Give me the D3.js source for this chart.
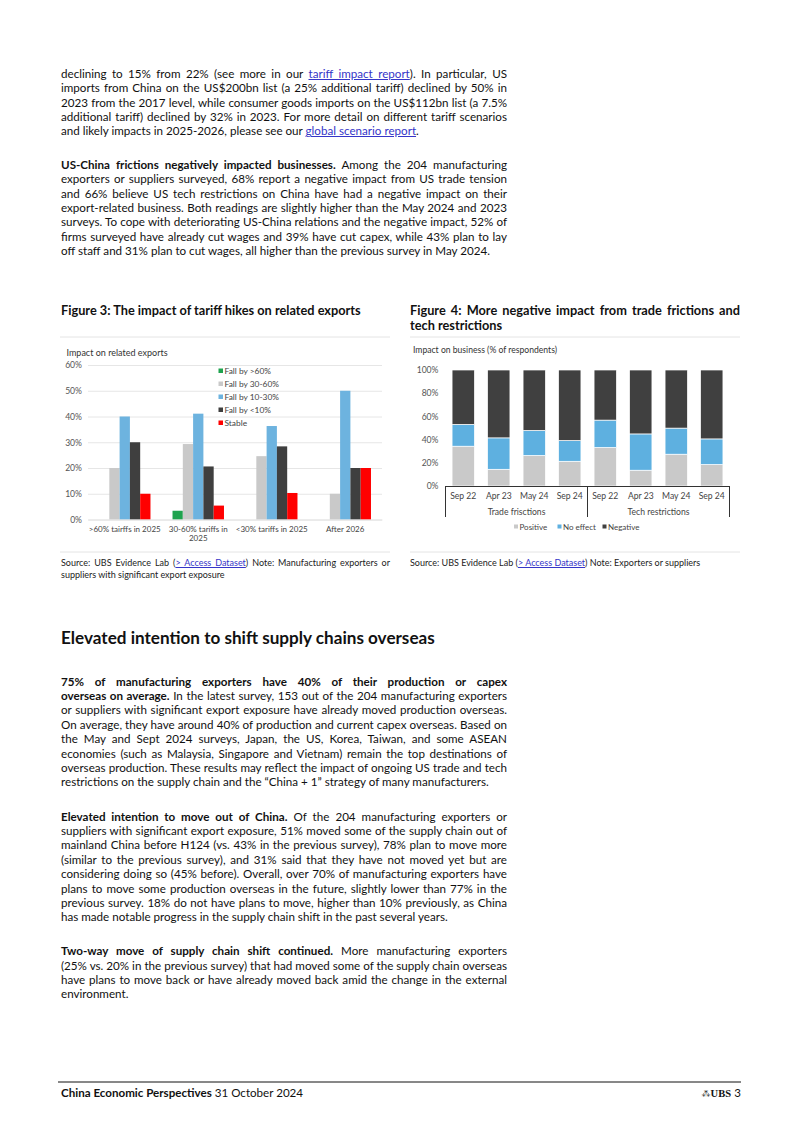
<!DOCTYPE html>
<html><head><meta charset="utf-8">
<script src="https://cdn.jsdelivr.net/npm/d3@7"></script>
<style>
html,body{margin:0;padding:0;background:#fff;}
body{width:802px;height:1134px;position:relative;overflow:hidden;font-family:Lato,"Noto Sans",sans-serif;color:#111;}
.ln{position:absolute;white-space:nowrap;}
.ln b{font-weight:700;}
.ln .a{color:#3535c8;text-decoration:underline;}
svg text{font-family:Lato,"Noto Sans",sans-serif;}
</style></head>
<body>
<script>
// ---------- DATA ----------
const fig3Categories = [">60% tairffs in 2025", "30-60% tariffs in|2025", "<30% tariffs in 2025", "After 2026"];
const fig3Series = ["Fall by >60%", "Fall by 30-60%", "Fall by 10-30%", "Fall by <10%", "Stable"];
const fall60 = [0, 3.4, 0, 0];
const fall30to60 = [20, 29.3, 24.6, 10];
const fall10to30 = [40, 41.1, 36.3, 50];
const fallBelow10 = [30, 20.6, 28.4, 20];
const stable = [10, 5.4, 10.3, 20];
const fig3Ticks = [0, 10, 20, 30, 40, 50, 60];

const fig4Periods = ["Sep 22", "Apr 23", "May 24", "Sep 24", "Sep 22", "Apr 23", "May 24", "Sep 24"];
const fig4Groups = ["Trade frisctions", "Tech restrictions"];
const fig4Series = ["Positive", "No effect", "Negative"];
const positive = [34.3, 14.4, 26.3, 21.3, 33.2, 13.6, 27.4, 18.5];
const noEffect = [18.8, 27.1, 21.6, 17.9, 23.6, 31.3, 22.5, 22.1];
const negative = [46.9, 58.5, 52.1, 60.8, 43.2, 55.1, 50.1, 59.4];
const fig4Ticks = [0, 20, 40, 60, 80, 100];

// ---------- PAGE ----------
const body = d3.select("body");
const svg = body.append("svg").attr("width", 802).attr("height", 1134)
  .style("position", "absolute").style("left", 0).style("top", 0);

const lines = [];
function addLine(x, yc, w, segs, opt) {
  opt = opt || {};
  const fs = opt.fs || 12, lh = opt.lh || 15;
  const d = body.append("div").attr("class", "ln")
    .style("left", x + "px").style("top", (yc - lh / 2) + "px")
    .style("line-height", lh + "px").style("font-size", fs + "px");
  if (opt.color) d.style("color", opt.color);
  const inner = d.append("span");
  segs.forEach(s => {
    const t = s[0], k = s[1] || "n";
    if (k === "b") inner.append("b").text(t);
    else if (k === "a") inner.append("span").attr("class", "a").text(t);
    else inner.append("span").text(t);
  });
  const o = {div: d, inner: inner, w: w, just: !!opt.just, group: opt.group || "prose", text: segs.map(s => s[0]).join("")};
  lines.push(o);
  return o;
}
function justify(o) {
  if (!o.just) return;
  o.div.style("word-spacing", "0px");
  const nat = o.inner.node().getBoundingClientRect().width;
  const n = (o.text.match(/ /g) || []).length;
  if (n > 0) o.div.style("word-spacing", ((o.w - nat) / n) + "px");
}

const X0 = 61, TW = 446, LH = 14.4;
function para(y0, arr) {
  arr.forEach((segs, i) => addLine(X0, y0 + i * LH, TW, segs, {just: i < arr.length - 1}));
}
para(73.3, [
  [["declining to 15% from 22% (see more in our "], ["tariff impact report", "a"], ["). In particular, US"]],
  [["imports from China on the US$200bn list (a 25% additional tariff) declined by 50% in"]],
  [["2023 from the 2017 level, while consumer goods imports on the US$112bn list (a 7.5%"]],
  [["additional tariff) declined by 32% in 2023. For more detail on different tariff scenarios"]],
  [["and likely impacts in 2025-2026, please see our "], ["global scenario report", "a"], ["."]]
]);
para(164.3, [
  [["US-China frictions negatively impacted businesses.", "b"], [" Among the 204 manufacturing"]],
  [["exporters or suppliers surveyed, 68% report a negative impact from US trade tension"]],
  [["and 66% believe US tech restrictions on China have had a negative impact on their"]],
  [["export-related business. Both readings are slightly higher than the May 2024 and 2023"]],
  [["surveys. To cope with deteriorating US-China relations and the negative impact, 52% of"]],
  [["firms surveyed have already cut wages and 39% have cut capex, while 43% plan to lay"]],
  [["off staff and 31% plan to cut wages, all higher than the previous survey in May 2024."]]
]);
para(681, [
  [["75% of manufacturing exporters have 40% of their production or capex", "b"]],
  [["overseas on average.", "b"], [" In the latest survey, 153 out of the 204 manufacturing exporters"]],
  [["or suppliers with significant export exposure have already moved production overseas."]],
  [["On average, they have around 40% of production and current capex overseas. Based on"]],
  [["the May and Sept 2024 surveys, Japan, the US, Korea, Taiwan, and some ASEAN"]],
  [["economies (such as Malaysia, Singapore and Vietnam) remain the top destinations of"]],
  [["overseas production. These results may reflect the impact of ongoing US trade and tech"]],
  [["restrictions on the supply chain and the \u201cChina + 1\u201d strategy of many manufacturers."]]
]);
para(816, [
  [["Elevated intention to move out of China.", "b"], [" Of the 204 manufacturing exporters or"]],
  [["suppliers with significant export exposure, 51% moved some of the supply chain out of"]],
  [["mainland China before H124 (vs. 43% in the previous survey), 78% plan to move more"]],
  [["(similar to the previous survey), and 31% said that they have not moved yet but are"]],
  [["considering doing so (45% before). Overall, over 70% of manufacturing exporters have"]],
  [["plans to move some production overseas in the future, slightly lower than 77% in the"]],
  [["previous survey. 18% do not have plans to move, higher than 10% previously, as China"]],
  [["has made notable progress in the supply chain shift in the past several years."]]
]);
para(950.7, [
  [["Two-way move of supply chain shift continued.", "b"], [" More manufacturing exporters"]],
  [["(25% vs. 20% in the previous survey) that had moved some of the supply chain overseas"]],
  [["have plans to move back or have already moved back amid the change in the external"]],
  [["environment."]]
]);

// calibrate prose font size so tightest justified line fits
(function () {
  const prose = lines.filter(l => l.group === "prose");
  let maxR = 0;
  prose.filter(l => l.just).forEach(l => {
    const r = l.inner.node().getBoundingClientRect().width / l.w;
    if (r > maxR) maxR = r;
  });
  const fs = 12 / maxR;
  prose.forEach(l => { l.div.style("font-size", fs + "px"); justify(l); });
})();

// section heading
(function () {
  const h = addLine(61, 638, 374, [["Elevated intention to shift supply chains overseas", "b"]], {fs: 18, lh: 22, group: "h"});
  const nat = h.inner.node().getBoundingClientRect().width;
  h.div.style("font-size", (18 * 374 / nat) + "px");
})();

// figure titles
(function () {
  const t3 = addLine(61, 310.7, 300, [["Figure 3: The impact of tariff hikes on related exports", "b"]], {fs: 12, lh: 15, group: "ft"});
  const nat = t3.inner.node().getBoundingClientRect().width;
  const fs = 12 * 300 / nat;
  t3.div.style("font-size", fs + "px");
  const a = addLine(410, 310.7, 330, [["Figure 4: More negative impact from trade frictions and", "b"]], {fs: fs, lh: 15, just: true, group: "ft"});
  addLine(410, 325.7, 330, [["tech restrictions", "b"]], {fs: fs, lh: 15, group: "ft"});
  justify(a);
})();

// sources
(function () {
  const s1 = addLine(61, 562.7, 329, [["Source: UBS Evidence Lab ("], ["> Access Dataset", "a"], [") Note: Manufacturing exporters or"]], {fs: 9, lh: 11, just: true, color: "#222", group: "src"});
  justify(s1);
  addLine(61, 574.3, 329, [["suppliers with significant export exposure"]], {fs: 9, lh: 11, color: "#222", group: "src"});
  addLine(410, 562.7, 329, [["Source: UBS Evidence Lab ("], ["> Access Dataset", "a"], [") Note: Exporters or suppliers"]], {fs: 9, lh: 11, color: "#222", group: "src"});
})();

// separators
[[60, 390], [410, 740]].forEach(r => {
  [337, 552].forEach(y => svg.append("line").attr("x1", r[0]).attr("x2", r[1]).attr("y1", y).attr("y2", y)
    .attr("stroke", "#e4e4e4").attr("stroke-width", 1));
});

// footer
svg.append("line").attr("x1", 58).attr("x2", 741).attr("y1", 1082).attr("y2", 1082).attr("stroke", "#111").attr("stroke-width", 1);
addLine(61, 1093, 300, [["China Economic Perspectives", "b"], ["  31 October 2024"]], {fs: 11.6, lh: 14, group: "foot"});
svg.append("text").attr("x", 731).attr("y", 1097).attr("text-anchor", "end")
  .style("font-family", "'Liberation Serif',serif").style("font-weight", 700).style("font-size", "10.5px").attr("fill", "#111").text("UBS");
svg.append("text").attr("x", 741).attr("y", 1097).attr("text-anchor", "end")
  .style("font-size", "11.5px").attr("fill", "#111").text("3");
svg.append("text").attr("x", 706).attr("y", 1096.5).attr("text-anchor", "middle")
  .style("font-family", "'DejaVu Sans',sans-serif").style("font-size", "9px").attr("fill", "#111").text("\u2042");

// ---------- FIGURE 3 ----------
(function () {
  const g = svg.append("g");
  const data = fig3Categories.map((c, i) => ({cat: c, vals: [fall60[i], fall30to60[i], fall10to30[i], fallBelow10[i], stable[i]]}));
  const colors = ["#1fa34f", "#c9c9c9", "#6db3df", "#3f3f3f", "#ff0000"];
  const x0 = d3.scaleBand().domain(fig3Categories).range([88, 382]).paddingInner(0.3).paddingOuter(0.15);
  const x1 = d3.scaleBand().domain(fig3Series).range([0, x0.bandwidth()]);
  const y = d3.scaleLinear().domain([0, 60]).range([519.5, 365]);

  g.append("text").attr("x", 66.5).attr("y", 353).attr("dy", "0.35em").style("font-size", "9px").attr("fill", "#333").text("Impact on related exports");

  const ax = g.append("g").attr("transform", "translate(88,0)")
    .call(d3.axisLeft(y).tickValues(fig3Ticks).tickFormat(d => d + "%").tickSize(-294).tickPadding(6));
  ax.select(".domain").remove();
  ax.selectAll(".tick line").attr("stroke", "#e0e0e0").attr("stroke-width", 0.8);
  ax.selectAll(".tick text").style("font-size", "8.6px").attr("fill", "#555").style("font-family", "Lato,sans-serif");

  const grp = g.selectAll(".grp").data(data).join("g").attr("transform", d => `translate(${x0(d.cat)},0)`);
  grp.selectAll("rect").data(d => d.vals.map((v, j) => ({s: fig3Series[j], v: v, j: j}))).join("rect")
    .attr("x", d => x1(d.s)).attr("width", x1.bandwidth())
    .attr("y", d => y(d.v)).attr("height", d => y(0) - y(d.v)).attr("fill", d => colors[d.j]);

  const xa = g.append("g").attr("transform", "translate(0,519.5)").call(d3.axisBottom(x0).tickSize(0).tickPadding(6).tickFormat(""));
  xa.select(".domain").attr("stroke", "#e0e0e0").attr("stroke-width", 0.8);
  fig3Categories.forEach(c => {
    const parts = c.split("|");
    parts.forEach((p, k) => g.append("text").attr("x", x0(c) + x0.bandwidth() / 2).attr("y", 529 + k * 9.5).attr("dy", "0.35em")
      .attr("text-anchor", "middle").style("font-size", "8px").attr("fill", "#444").text(p));
  });

  const lg = g.append("g");
  fig3Series.forEach((s, i) => {
    const yy = 371 + i * 13;
    lg.append("rect").attr("x", 218.5).attr("y", yy - 2.5).attr("width", 4.5).attr("height", 4.5).attr("fill", colors[i]);
    lg.append("text").attr("x", 224.5).attr("y", yy).attr("dy", "0.35em").style("font-size", "8.4px").attr("fill", "#444").text(s);
  });
})();

// ---------- FIGURE 4 ----------
(function () {
  const g = svg.append("g");
  const idx = d3.range(fig4Periods.length);
  const rows = idx.map(i => ({i: i, Positive: positive[i], "No effect": noEffect[i], Negative: negative[i]}));
  const stack = d3.stack().keys(fig4Series)(rows);
  const colors = {"Positive": "#c9c9c9", "No effect": "#5eb0e0", "Negative": "#404040"};
  const x = d3.scaleBand().domain(idx).range([445.5, 729.5]).paddingInner(0.37).paddingOuter(0.185);
  const y = d3.scaleLinear().domain([0, 100]).range([486, 370]);

  g.append("text").attr("x", 413).attr("y", 349.5).attr("dy", "0.35em").style("font-size", "8.6px").attr("fill", "#333").text("Impact on business (% of respondents)");

  const ay = g.append("g").attr("transform", "translate(445.5,0)")
    .call(d3.axisLeft(y).tickValues(fig4Ticks).tickFormat(d => d + "%").tickSize(0).tickPadding(7));
  ay.select(".domain").remove();
  ay.selectAll(".tick text").style("font-size", "8.6px").attr("fill", "#555").style("font-family", "Lato,sans-serif");

  g.selectAll(".ser").data(stack).join("g").attr("fill", d => colors[d.key])
    .selectAll("rect").data(d => d).join("rect")
    .attr("x", d => x(d.data.i)).attr("width", x.bandwidth())
    .attr("y", d => y(d[1])).attr("height", d => y(d[0]) - y(d[1]))
    .attr("stroke", "#fff").attr("stroke-width", 0.7);

  const ax = g.append("g").attr("transform", "translate(0,486)")
    .call(d3.axisBottom(x).tickSize(0).tickPadding(7).tickFormat(i => fig4Periods[i]));
  ax.select(".domain").attr("stroke", "#333").attr("stroke-width", 1);
  ax.selectAll(".tick text").style("font-size", "8.6px").attr("fill", "#444").style("font-family", "Lato,sans-serif");
  const step = x.step();
  [445.5, 445.5 + 4 * step, 729.5].forEach(xx => g.append("line").attr("x1", xx).attr("x2", xx).attr("y1", 486).attr("y2", 517).attr("stroke", "#333").attr("stroke-width", 1));
  fig4Groups.forEach((gname, k) => g.append("text").attr("x", 445.5 + (k * 4 + 2) * step).attr("y", 511.7).attr("dy", "0.35em")
    .attr("text-anchor", "middle").style("font-size", "8.6px").attr("fill", "#444").text(gname));

  const legX = [516, 559.5, 604.5];
  fig4Series.forEach((s, i) => {
    g.append("rect").attr("x", legX[i] - 2).attr("y", 524.5).attr("width", 4).attr("height", 4).attr("fill", colors[s]);
    g.append("text").attr("x", legX[i] + 3.5).attr("y", 526.7).attr("dy", "0.35em").style("font-size", "8px").attr("fill", "#444").text(s);
  });
})();
</script>
</body></html>
